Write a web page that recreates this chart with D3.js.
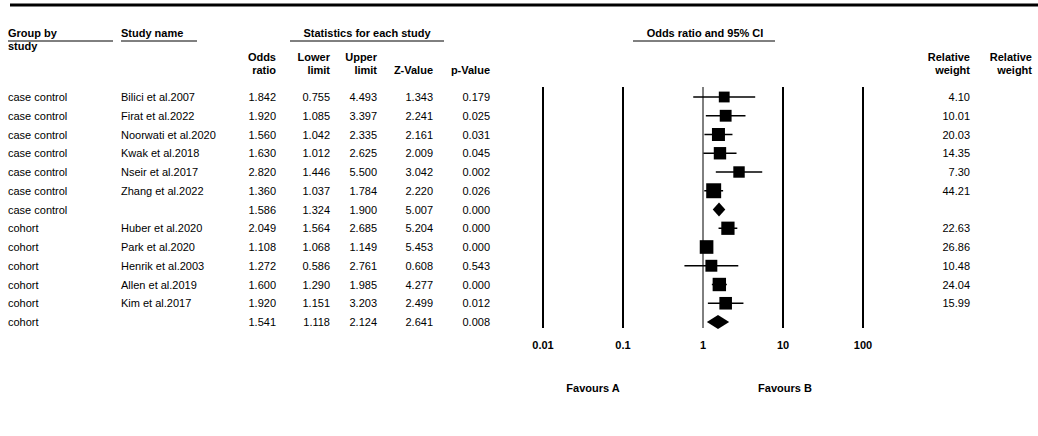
<!DOCTYPE html>
<html><head><meta charset="utf-8">
<script src="https://cdn.jsdelivr.net/npm/d3@7"></script>
<style>body{margin:0;background:#fff}text{font-family:"Liberation Sans",Arial,sans-serif;font-size:11px;fill:#000}</style>
</head><body>
<script>
const groups = ["case control","case control","case control","case control","case control","case control","case control","cohort","cohort","cohort","cohort","cohort","cohort"];
const studies = ["Bilici et al.2007","Firat et al.2022","Noorwati  et al.2020","Kwak et al.2018","Nseir et al.2017","Zhang et al.2022","","Huber et al.2020","Park et al.2020","Henrik et al.2003","Allen et al.2019","Kim et al.2017",""];
const oddsRatio = [1.842,1.920,1.560,1.630,2.820,1.360,1.586,2.049,1.108,1.272,1.600,1.920,1.541];
const lower = [0.755,1.085,1.042,1.012,1.446,1.037,1.324,1.564,1.068,0.586,1.290,1.151,1.118];
const upper = [4.493,3.397,2.335,2.625,5.500,1.784,1.900,2.685,1.149,2.761,1.985,3.203,2.124];
const zValue = [1.343,2.241,2.161,2.009,3.042,2.220,5.007,5.204,5.453,0.608,4.277,2.499,2.641];
const pValue = [0.179,0.025,0.031,0.045,0.002,0.026,0.000,0.000,0.000,0.543,0.000,0.012,0.008];
const weight = [4.10,10.01,20.03,14.35,7.30,44.21,null,22.63,26.86,10.48,24.04,15.99,null];
const ticks = [0.01,0.1,1,10,100];

const W = 1038, H = 436;
const svg = d3.select("body").append("svg").attr("width", W).attr("height", H);
const x = d3.scaleLog().domain([0.01,100]).range([543,863]);
const y = d3.scaleLinear().domain([0,12]).range([97,322]);
const size = d3.scaleSqrt().domain([0,45]).range([9,15]);

svg.append("line").attr("x1",10).attr("x2",W).attr("y1",5).attr("y2",5).attr("stroke","#000").attr("stroke-width",3);

function txt(s, xx, yy, anchor, bold){
  return svg.append("text").text(s).attr("x",xx).attr("y",yy)
    .attr("text-anchor",anchor||"start").style("font-weight",bold?"bold":"normal");
}
function uline(x1,x2,yy){svg.append("line").attr("x1",x1).attr("x2",x2).attr("y1",yy).attr("y2",yy).attr("stroke","#000");}

txt("Group by",8,37,"start",true); uline(8,113,41); txt("study",8,50,"start",true);
txt("Study name",121,37,"start",true); uline(121,197,41);
txt("Statistics for each study",367,37,"middle",true); uline(290,444,41);
txt("Odds ratio and 95% CI",705,37,"middle",true); uline(633,775,41);
const hdr = [["Odds","ratio",276],["Lower","limit",330],["Upper","limit",377],["","Z-Value",433],["","p-Value",490],["Relative","weight",970],["Relative","weight",1032]];
hdr.forEach(h=>{ if(h[0]) txt(h[0],h[2],61,"end",true); txt(h[1],h[2],74,"end",true); });

const rows = d3.range(groups.length);
rows.forEach(i=>{
  const yy = y(i)+4;
  txt(groups[i],8,yy);
  txt(studies[i],121,yy);
  txt(oddsRatio[i].toFixed(3),276,yy,"end");
  txt(lower[i].toFixed(3),330,yy,"end");
  txt(upper[i].toFixed(3),377,yy,"end");
  txt(zValue[i].toFixed(3),433,yy,"end");
  txt(pValue[i].toFixed(3),490,yy,"end");
  if(weight[i]!=null) txt(weight[i].toFixed(2),970,yy,"end");
});

ticks.forEach(t=>{
  svg.append("line").attr("x1",x(t)).attr("x2",x(t)).attr("y1",87).attr("y2",328)
    .attr("stroke","#000").attr("stroke-width",t===1?1:2);
  txt(String(t),x(t),349,"middle",true);
});
txt("Favours A",593,392,"middle",true);
txt("Favours B",785,392,"middle",true);

rows.forEach(i=>{
  const cy = y(i);
  if(weight[i]!=null){
    svg.append("line").attr("x1",x(lower[i])).attr("x2",x(upper[i])).attr("y1",cy).attr("y2",cy).attr("stroke","#000").attr("stroke-width",1.5);
    const s = size(weight[i]);
    svg.append("rect").attr("x",x(oddsRatio[i])-s/2).attr("y",cy-s/2).attr("width",s).attr("height",s);
  } else {
    const pts = [[x(lower[i]),cy],[x(oddsRatio[i]),cy-7],[x(upper[i]),cy],[x(oddsRatio[i]),cy+7]];
    svg.append("path").attr("d","M"+pts.join("L")+"Z");
  }
});
</script>
</body></html>
